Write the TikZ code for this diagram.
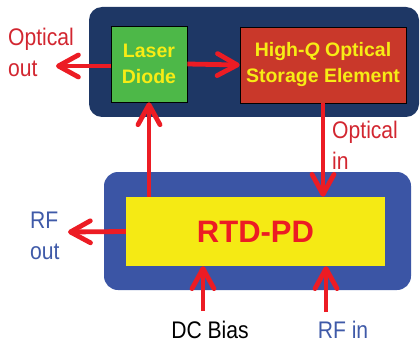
\documentclass[tikz,border=0pt]{standalone}
\usepackage{fontspec}
\setmainfont{Liberation Sans}
\newfontfamily\narrowfont[FakeStretch=0.88]{Liberation Sans}
\usetikzlibrary{arrows.meta}
\definecolor{navy}{HTML}{1E3765}
\definecolor{boxblue}{HTML}{3B55A5}
\definecolor{ldgreen}{HTML}{4DB848}
\definecolor{hqred}{HTML}{C9382A}
\definecolor{rtdyellow}{HTML}{F5EA14}
\definecolor{arrred}{HTML}{EC1C24}
\definecolor{txtred}{HTML}{D22630}
\definecolor{txtblue}{HTML}{3F5AA8}
\definecolor{txtyellow}{HTML}{F7EC15}
\begin{document}
\begin{tikzpicture}[x=1pt,y=-1pt,
  conn/.style={draw=arrred,line width=4.8pt,-{Straight Barb[length=20pt,width=22pt,round]}},
  blockbox/.style={draw=black,line width=0.6pt,inner sep=0pt,align=center,text=txtyellow,font=\bfseries\fontsize{19.5}{26}\selectfont},
  outlabel/.style={align=left,inner sep=0pt,font=\narrowfont\fontsize{24}{31}\selectfont}]
\useasboundingbox (0,0) rectangle (420,350);
\fill[navy,rounded corners=13pt] (89,7) rectangle (419,117);
\fill[boxblue,rounded corners=14pt] (104,172) rectangle (411,290);
\node[blockbox,fill=ldgreen,minimum width=76pt,minimum height=76pt] (laser) at (149,64) {Laser\\Diode};
\node[blockbox,fill=hqred,minimum width=166pt,minimum height=76pt] (hq) at (323,65) {High-\textit{Q} Optical\\Storage Element};
\node[fill=rtdyellow,inner sep=0pt,minimum width=259pt,minimum height=69pt,text=arrred,font=\bfseries\fontsize{31}{36}\selectfont] (rtd) at (255.5,231.5) {RTD-PD};
\node[outlabel,text=txtred,anchor=west] (optout) at (8,52) {Optical\\out};
\node[outlabel,text=txtred,anchor=west] (optin) at (332,145) {Optical\\in};
\node[outlabel,text=txtblue,anchor=west] (rfout) at (30,236) {RF\\out};
\node[outlabel,text=black] (dcbias) at (210,330) {DC Bias};
\node[outlabel,text=txtblue] (rfin) at (343,330) {RF in};
\coordinate (ootip) at (56,66);
\coordinate (rotip) at (68,232);
\coordinate (dcstart) at (203,311);
\coordinate (rfstart) at (326,312);
\draw[conn] (laser.east) -- (hq.west);
\draw[conn] (laser.west |- ootip) -- (ootip);
\draw[conn] (rtd.north -| laser.south) -- (laser.south);
\draw[conn] (hq.south) -- (rtd.north -| hq.south);
\draw[conn] (rtd.west) -- (rotip);
\draw[conn] (dcstart) -- (dcstart |- rtd.south);
\draw[conn] (rfstart) -- (rfstart |- rtd.south);
\end{tikzpicture}
\end{document}
